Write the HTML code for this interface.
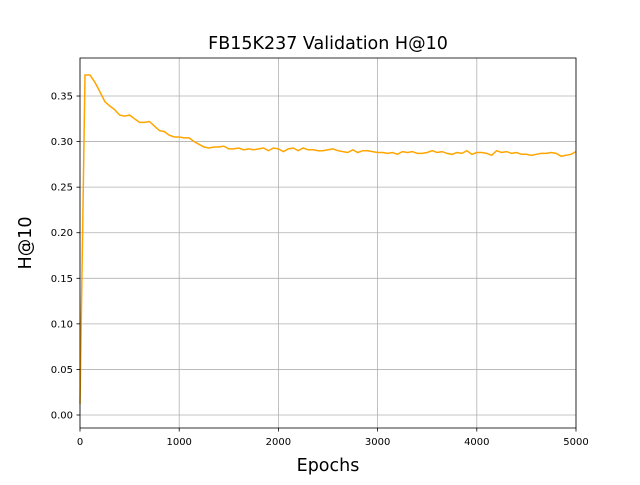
<!DOCTYPE html>
<html><head><meta charset="utf-8"><style>
body{margin:0;background:#fff;font-family:"Liberation Sans","DejaVu Sans",sans-serif;}
svg text{font-family:"DejaVu Sans","Liberation Sans",sans-serif;}
</style></head><body>
<svg id="chart" width="640" height="480" xmlns="http://www.w3.org/2000/svg"></svg>
<script>
const epochs = [];
for (let e = 0; e <= 5000; e += 50) epochs.push(e);
const h10 = [0.012,0.373,0.373,0.365,0.355,0.344,0.339,0.335,0.329,0.328,0.329,0.325,0.321,0.321,0.322,0.317,0.312,0.311,0.307,0.305,0.305,0.304,0.304,0.300,0.297,0.294,0.293,0.294,0.294,0.295,0.292,0.292,0.293,0.291,0.292,0.291,0.292,0.293,0.290,0.293,0.292,0.289,0.292,0.293,0.290,0.293,0.291,0.291,0.290,0.290,0.291,0.292,0.290,0.289,0.288,0.291,0.288,0.290,0.290,0.289,0.288,0.288,0.287,0.288,0.286,0.289,0.288,0.289,0.287,0.287,0.288,0.290,0.288,0.289,0.287,0.286,0.288,0.287,0.290,0.286,0.288,0.288,0.287,0.285,0.290,0.288,0.289,0.287,0.288,0.286,0.286,0.285,0.286,0.287,0.287,0.288,0.287,0.284,0.285,0.286,0.289];
const xTicks = [0,1000,2000,3000,4000,5000];
const yTicks = [0.00,0.05,0.10,0.15,0.20,0.25,0.30,0.35];

const svg = document.getElementById('chart');
const NS = 'http://www.w3.org/2000/svg';
const L=80,R=576,T=58,B=428;
const xS = v => L + v/5000*(R-L);
const yS = v => 415 - v/0.05*45.57;
function mk(tag, attrs, txt){const el=document.createElementNS(NS,tag);for(const k in attrs)el.setAttribute(k,attrs[k]);if(txt!==undefined)el.textContent=txt;svg.appendChild(el);return el;}

xTicks.forEach(t=>{
  const g=mk('line',{x1:xS(t),x2:xS(t),y1:T,y2:B,stroke:'#b0b0b0','stroke-width':0.8});
  
  
  mk('line',{x1:xS(t),x2:xS(t),y1:B,y2:B+3.5,stroke:'#000','stroke-width':0.8});
  const lb=mk('text',{x:xS(t),y:B+17,'text-anchor':'middle','font-size':10},String(t));
  
  
});
yTicks.forEach(t=>{
  const g=mk('line',{x1:L,x2:R,y1:yS(t),y2:yS(t),stroke:'#b0b0b0','stroke-width':0.8});
  
  
  mk('line',{x1:L-3.5,x2:L,y1:yS(t),y2:yS(t),stroke:'#000','stroke-width':0.8});
  const lb=mk('text',{x:L-7,y:yS(t)+3.5,'text-anchor':'end','font-size':10},t.toFixed(2));
  
  
});
const pts = epochs.map((e,i)=>xS(e).toFixed(1)+','+yS(h10[i]).toFixed(1)).join(' ');
const line = mk('polyline',{points:pts,fill:'none',stroke:'#ffa500','stroke-width':1.5});


const frame = mk('rect',{x:L,y:T,width:R-L,height:B-T,fill:'none',stroke:'#000','stroke-width':0.8});


const title = mk('text',{x:328,y:49,'text-anchor':'middle','font-size':17.5},'FB15K237 Validation H@10');


const xt = mk('text',{x:328,y:471,'text-anchor':'middle','font-size':17.5},'Epochs');


const yt = mk('text',{x:31,y:243,'text-anchor':'middle','font-size':17.5,transform:'rotate(-90 31 243)'},'H@10');


</script>
</body></html>
